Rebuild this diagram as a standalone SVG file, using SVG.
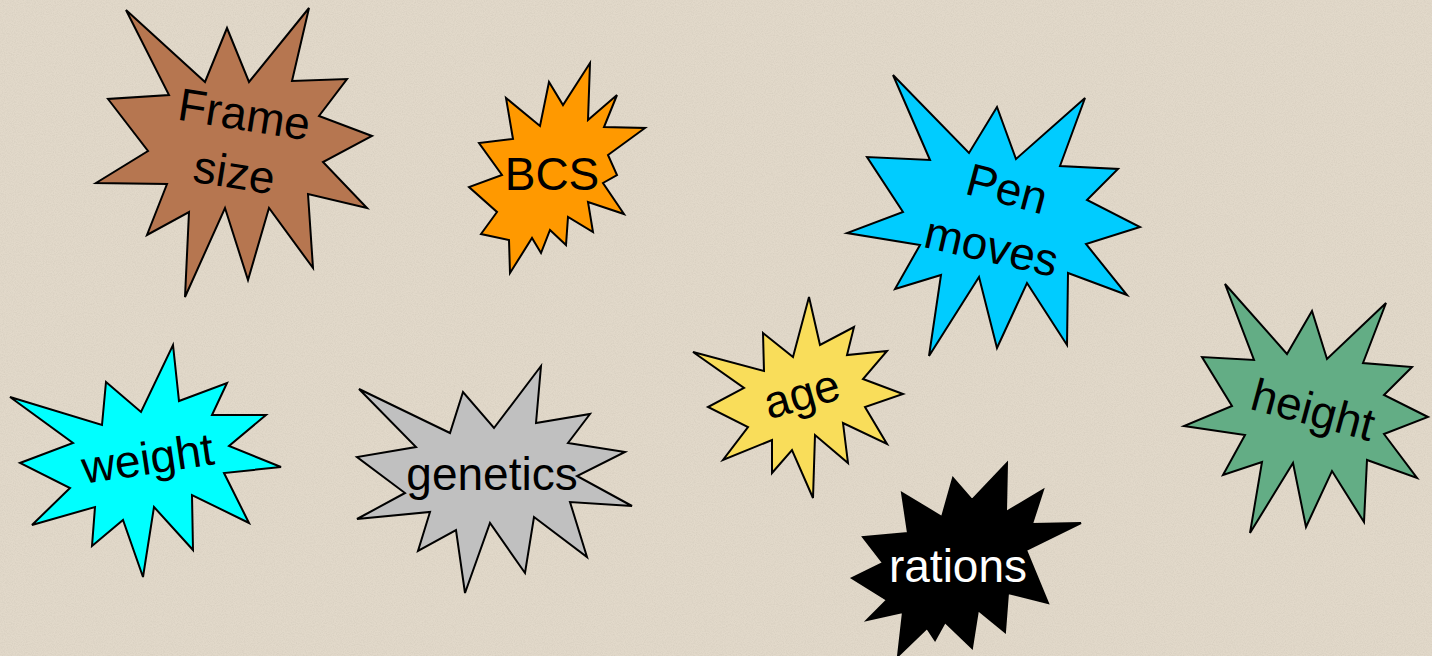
<svg xmlns="http://www.w3.org/2000/svg" width="1432" height="656" viewBox="0 0 1432 656">
<defs>
<filter id="grain" x="0" y="0" width="100%" height="100%">
<feTurbulence type="fractalNoise" baseFrequency="0.9" numOctaves="2" seed="3" result="n"/>
<feColorMatrix in="n" type="matrix" values="0 0 0 0 0.55  0 0 0 0 0.5  0 0 0 0 0.42  0 0 0 -1.6 1.05"/>
</filter>
</defs>
<style>
.burst{stroke:#000;stroke-width:2;stroke-linejoin:miter}
.lbl{font-family:"Liberation Sans",Arial,sans-serif;font-size:46px;text-anchor:middle;fill:#000}
</style>
<rect width="1432" height="656" fill="#e2d9ca"/>
<rect width="1432" height="656" filter="url(#grain)" opacity="0.35"/>
<g id="frame-size">
<polygon class="burst" fill="#b67650" points="126,10 205,82 227,28 249,82 309,8 292,81 347,79 319,116 372,136 323,162 367,208 308,194 313,268 269,208 248,280 225,208 185,297 189,212 147,235 167,184 96,183 148,151 108,99 169,95"/>
<text class="lbl" x="242" y="130" transform="rotate(9 242 130)">Frame</text>
<text class="lbl" x="232" y="188" transform="rotate(9 232 188)">size</text>
</g>
<g id="bcs">
<polygon class="burst" fill="#ff9900" points="590,63 588,120 617,95 604,127 645,128 608,155 617,175 603,183 624,214 588,202 593,232 568,217 566,245 550,230 541,253 532,238 510,273 509,240 481,234 497,212 469,187 502,175 479,143 513,139 506,98 540,126 549,82 563,105"/>
<text class="lbl" x="552" y="190">BCS</text>
</g>
<g id="pen-moves">
<polygon class="burst" fill="#00ccff" points="893,75 969,153 997,107 1016,159 1085,98 1060,166 1118,169 1087,200 1140,227 1086,244 1127,295 1068,273 1067,345 1027,283 997,348 979,277 929,356 941,275 895,289 920,245 847,233 903,212 867,157 930,160"/>
<text class="lbl" x="1003" y="204" transform="rotate(15 1003 204)">Pen</text>
<text class="lbl" x="988" y="262" transform="rotate(13 988 262)">moves</text>
</g>
<g id="weight">
<polygon class="burst" fill="#00ffff" points="173,345 179,401 227,383 212,415 266,415 229,446 281,467 224,473 249,523 192,495 193,550 154,507 143,577 123,520 92,546 95,507 32,525 70,488 20,463 73,443 10,397 102,425 106,382 141,412"/>
<text class="lbl" x="150" y="474" transform="rotate(-8.5 150 474)">weight</text>
</g>
<g id="genetics">
<polygon class="burst" fill="#c0c0c0" points="541,366 536,423 590,414 568,443 625,452 577,476 632,506 570,502 587,557 534,517 525,573 490,523 465,593 456,530 418,551 430,512 357,519 405,493 357,457 416,447 359,389 450,433 463,392 494,428"/>
<text class="lbl" x="492" y="490">genetics</text>
</g>
<g id="age">
<polygon class="burst" fill="#f9dd5a" points="809,297 820,345 854,327 847,355 887,351 863,379 903,394 865,407 887,444 843,423 848,463 815,435 813,498 792,450 772,473 772,440 723,460 748,427 708,407 744,388 693,352 764,371 763,333 793,357"/>
<text class="lbl" x="806" y="409" transform="rotate(-16 806 409)">age</text>
</g>
<g id="rations">
<polygon class="burst" fill="#000" points="1007,463 1006,512 1043,490 1032,524 1081,523 1026,550 1048,603 1008,593 1005,632 978,610 972,648 945,622 935,640 927,628 898,656 903,612 867,620 887,600 852,578 883,563 863,537 908,533 902,493 942,517 953,478 972,500"/>
<text class="lbl" x="958" y="582" style="fill:#fff">rations</text>
</g>
<g id="height">
<polygon class="burst" fill="#63ad85" points="1225,284 1287,354 1312,311 1327,359 1386,303 1363,363 1412,367 1384,395 1428,417 1384,434 1417,478 1367,460 1364,522 1332,471 1306,527 1293,463 1250,533 1262,462 1223,475 1245,435 1184,426 1232,406 1202,357 1254,360"/>
<text class="lbl" x="1309" y="425" transform="rotate(15 1309 425)">height</text>
</g>
<g id="connectors"/>
</svg>
